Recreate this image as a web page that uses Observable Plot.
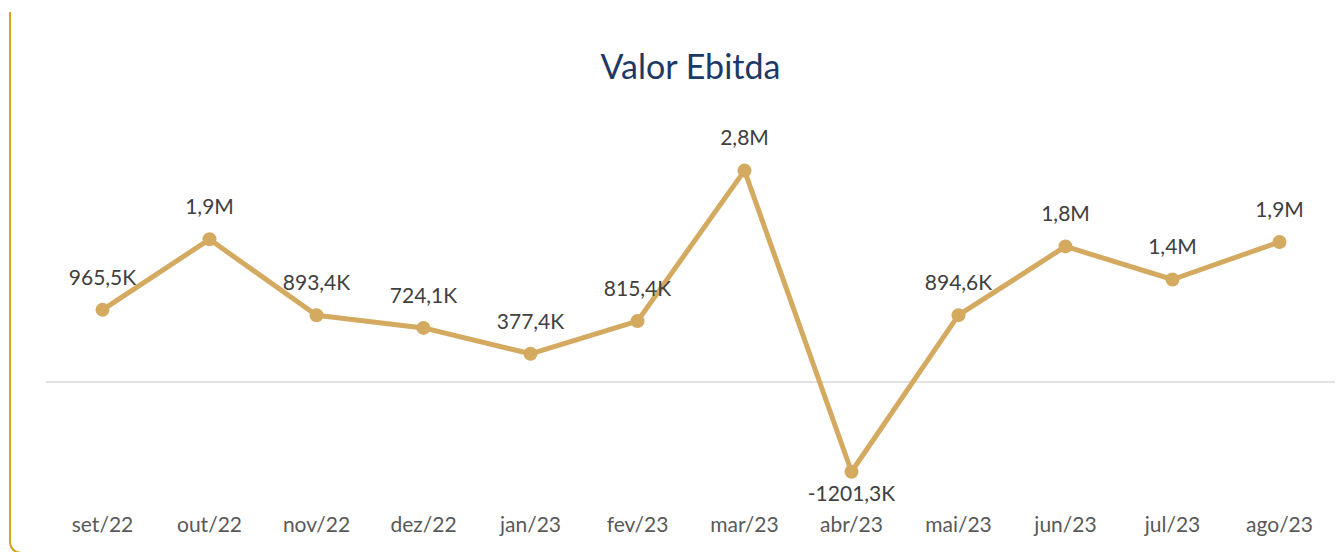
<!DOCTYPE html>
<html>
<head>
<meta charset="utf-8">
<script src="https://cdn.jsdelivr.net/npm/d3@7"></script>
<script src="https://cdn.jsdelivr.net/npm/@observablehq/plot@0.6"></script>
<style>
  html, body { margin: 0; padding: 0; background: #fff; }
  #wrap { position: relative; width: 1344px; height: 552px; overflow: hidden; background: #fff; font-family: Lato, "Open Sans", sans-serif; }
  #frame { position: absolute; left: 9px; top: 12px; width: 2000px; height: 542px; box-sizing: border-box;
           border-left: 2px solid #D6A420; border-bottom: 2px solid #D6A420; border-bottom-left-radius: 12px; }
  #title { position: absolute; left: 46px; width: 1289px; top: 49px; text-align: center; font-size: 34px; line-height: 34px; color: #203864; }
  #chart { position: absolute; left: 0; top: 100px; }
</style>
</head>
<body>
<div id="wrap">
  <div id="frame"></div>
  <div id="title">Valor Ebitda</div>
  <div id="chart"></div>
</div>
<script>
const months = ["set/22","out/22","nov/22","dez/22","jan/23","fev/23","mar/23","abr/23","mai/23","jun/23","jul/23","ago/23"];
const valuesK = [965.5, 1910, 893.4, 724.1, 377.4, 815.4, 2830, -1201.3, 894.6, 1815, 1372, 1875];
const labels = ["965,5K","1,9M","893,4K","724,1K","377,4K","815,4K","2,8M","-1201,3K","894,6K","1,8M","1,4M","1,9M"];

const data = months.map((m, i) => ({month: m, value: valuesK[i], label: labels[i]}));
const lineColor = "#D4A960";

const chart = Plot.plot({
  width: 1344,
  height: 452,
  marginLeft: 46,
  marginRight: 9,
  marginTop: 35,
  marginBottom: 51,
  style: {fontFamily: "Lato, 'Open Sans', sans-serif", background: "transparent", overflow: "visible"},
  x: {type: "point", domain: months, padding: 0.5},
  y: {domain: [-1600, 3300], axis: null},
  marks: [
    Plot.ruleY([0], {stroke: "#D9D9D9", strokeWidth: 1.5}),
    Plot.axisX({anchor: "bottom", tickSize: 0, tickPadding: 16, fontSize: 21, color: "#595959", label: null}),
    Plot.line(data, {x: "month", y: "value", stroke: lineColor, strokeWidth: 5, strokeLinejoin: "round", strokeLinecap: "round"}),
    Plot.dot(data, {x: "month", y: "value", r: 7, fill: lineColor, stroke: "none"}),
    Plot.text(data.filter(d => d.value >= 0), {x: "month", y: "value", text: "label", dy: -32, fontSize: 21, fill: "#404040"}),
    Plot.text(data.filter(d => d.value < 0), {x: "month", y: "value", text: "label", dy: 23, fontSize: 21, fill: "#404040"})
  ]
});
document.getElementById("chart").appendChild(chart);
</script>
</body>
</html>
